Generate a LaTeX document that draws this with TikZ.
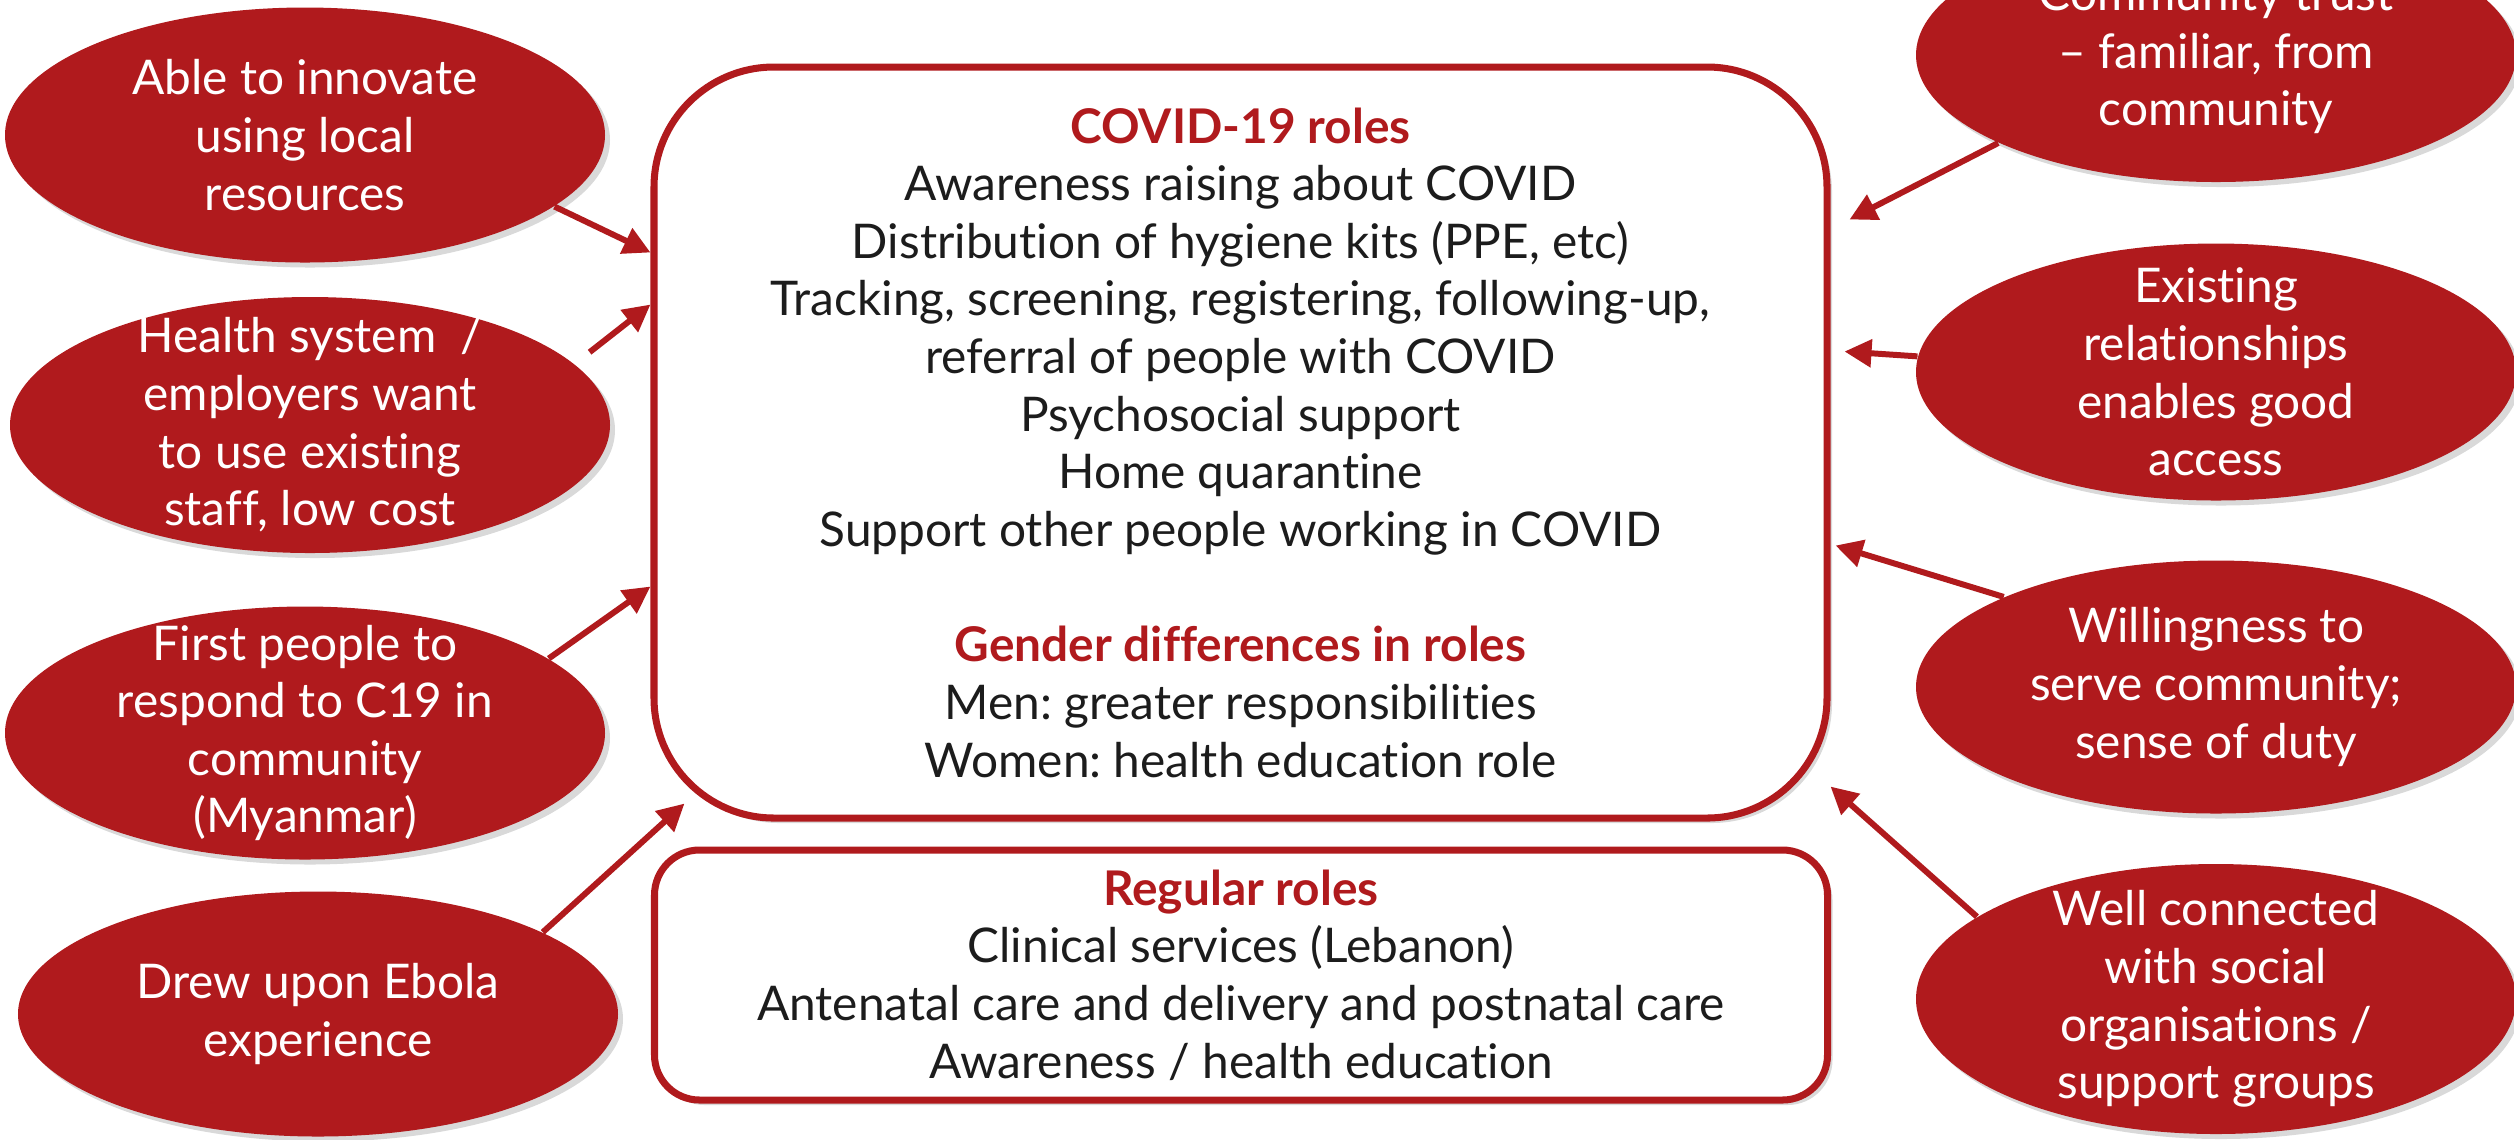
\documentclass[tikz,border=0pt]{standalone}
\usepackage{fontspec}
\setmainfont{Lato}[Ligatures=NoCommon]
\frenchspacing
\usetikzlibrary{shapes.geometric,shadows,arrows.meta}
\definecolor{rolered}{HTML}{B01A1D}
\definecolor{roleink}{HTML}{1C1C1C}

\begin{document}
\begin{tikzpicture}[
    factor/.style={ellipse, fill=rolered, text=white, align=center,
        minimum width=6cm, minimum height=2.55cm, inner xsep=-0.3cm, inner ysep=-0.6cm,
        font=\fontsize{13.6}{16.4}\selectfont,
        drop shadow={shadow xshift=0.05cm, shadow yshift=-0.05cm, opacity=0.3}},
    rolebox/.style={rectangle, draw=rolered, line width=2pt, fill=white, text=roleink,
        align=center, minimum width=11.73cm, font=\fontsize{13.6}{16.4}\selectfont,
        drop shadow={shadow xshift=0.05cm, shadow yshift=-0.05cm, opacity=0.3}},
    feed/.style={draw=rolered, line width=1.7pt, -{Triangle[length=0.27cm, width=0.27cm]}}
]
        \useasboundingbox (0,0) rectangle (25.14,-11.39);

        % factors on the left
        \node[factor] (innov) at (3.05,-1.35) {Able to innovate\\using local\\resources};
        \node[factor, minimum height=2.56cm] (health) at (3.10,-4.25) {Health system~~/\\employers want\\to use existing\\staff, low cost};
        \node[factor, minimum height=2.53cm] (first) at (3.05,-7.33) {First people to\\respond to C19 in\\community\\(Myanmar)};
        \node[factor, minimum height=2.45cm] (ebola) at (3.18,-10.14) {Drew upon Ebola\\experience};

        % factors on the right
        \node[factor, minimum height=2.54cm] (trust) at (22.16,-0.55) {Community trust\\– familiar, from\\community};
        \node[factor, minimum height=2.57cm] (exist) at (22.16,-3.72) {Existing\\relationships\\enables good\\access};
        \node[factor, minimum height=2.53cm] (willing) at (22.16,-6.87) {Willingness to\\serve community;\\sense of duty};
        \node[factor, minimum height=2.70cm] (connect) at (22.16,-9.99) {Well connected\\with social\\organisations /\\support groups};

        % role boxes
        \node[rolebox, rounded corners=1.2cm, minimum height=7.51cm] (covid) at (12.405,-4.425) {%
            {\color{rolered}\bfseries COVID-19 roles}\\
            Awareness raising about COVID\\
            Distribution of hygiene kits (PPE, etc)\\
            Tracking, screening, registering, following-up,\\
            referral of people with COVID\\
            Psychosocial support\\
            Home quarantine\\
            Support other people working in COVID\\[16.4pt]
            {\color{rolered}\bfseries Gender differences in roles}\\
            Men: greater responsibilities\\
            Women: health education role};
        \node[rolebox, rounded corners=0.45cm, minimum height=2.5cm] (regular) at (12.41,-9.75) {%
            {\color{rolered}\bfseries Regular roles}\\
            Clinical services (Lebanon)\\
            Antenatal care and delivery and postnatal care\\
            Awareness / health education};

        % arrows into the COVID box
        \draw[feed] (innov.-16) -- ([yshift=-1.89cm]covid.north west);
        \draw[feed, shorten <=0.19cm] (health.13) -- ([yshift=-2.41cm]covid.north west);
        \draw[feed] (first.17) -- ([yshift=-5.23cm]covid.north west);
        \draw[feed] (ebola.20) -- ([shift={(0.34cm,0.18cm)}]covid.south west);
        \draw[feed] (trust.202.6) -- ([shift={(0.19cm,-1.56cm)}]covid.north east);
        \draw[feed] (exist.177.7) -- ([shift={(0.14cm,-2.88cm)}]covid.north east);
        \draw[feed] (willing.157) -- ([shift={(0.05cm,-4.82cm)}]covid.north east);
        \draw[feed] (connect.161.4) -- ([yshift=0.35cm]covid.south east);
\end{tikzpicture}
\end{document}
